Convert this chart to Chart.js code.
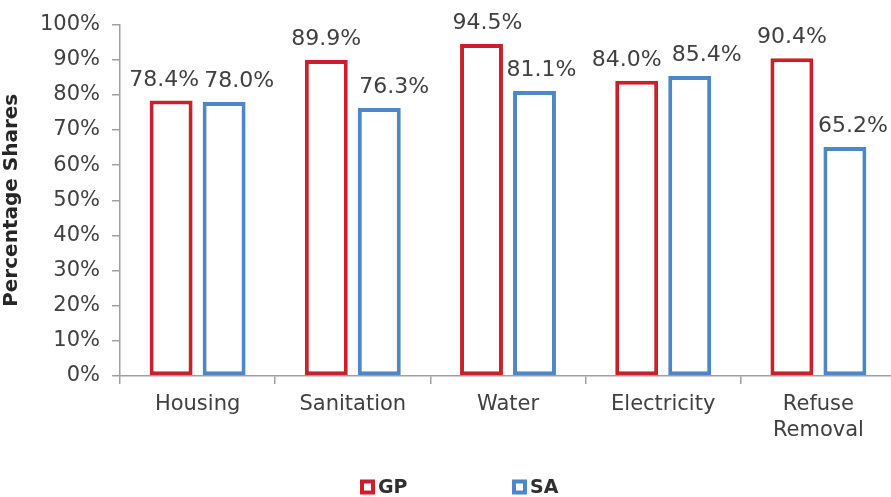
<!DOCTYPE html>
<html>
<head>
<meta charset="utf-8">
<script src="https://cdn.jsdelivr.net/npm/chart.js@4/dist/chart.umd.min.js"></script>
<style>
  html, body { margin: 0; padding: 0; background: #fff; overflow: hidden; }
  #wrap { width: 891px; height: 497px; overflow: hidden; }
  #c { display: block; }
</style>
</head>
<body>
<div id="wrap"><canvas id="c" width="896" height="497"></canvas></div>
<script>
// Access to basic services: share of households
const categories = ['Housing', 'Sanitation', 'Water', 'Electricity', ['Refuse', 'Removal']];
const gpValues = [78.4, 89.9, 94.5, 84.0, 90.4];
const saValues = [78.0, 76.3, 81.1, 85.4, 65.2];
const seriesNames = ['GP', 'SA'];
const yTicks = [0, 10, 20, 30, 40, 50, 60, 70, 80, 90, 100];

// horizontal nudges for the value labels so neighbours don't collide
const labelNudge = [
  [-7, 0, 6, -10, 0],
  [15, 15, 7, 17, 8]
];

const RED = '#C9212B';
const BLUE = '#4F86C6';
const TEXT = '#404040';
const FONT = '"DejaVu Sans", Verdana, sans-serif';

// value labels above each bar
const barLabels = {
  id: 'barLabels',
  afterDatasetsDraw(chart) {
    const ctx = chart.ctx;
    ctx.save();
    ctx.font = '22px ' + FONT;
    ctx.fillStyle = TEXT;
    ctx.textAlign = 'center';
    ctx.textBaseline = 'alphabetic';
    chart.data.datasets.forEach((ds, i) => {
      const meta = chart.getDatasetMeta(i);
      meta.data.forEach((bar, j) => {
        ctx.fillText(ds.data[j].toFixed(1) + '%', bar.x + labelNudge[i][j], bar.y - 15);
      });
    });
    ctx.restore();
  }
};

// legend row along the bottom edge
const bottomLegend = {
  id: 'bottomLegend',
  afterDraw(chart) {
    const ctx = chart.ctx;
    const xs = [360, 512];
    const y = 487;
    ctx.save();
    ctx.font = 'bold 19px ' + FONT;
    ctx.textBaseline = 'middle';
    ctx.textAlign = 'left';
    chart.data.datasets.forEach((ds, i) => {
      ctx.strokeStyle = ds.borderColor;
      ctx.lineWidth = 4;
      ctx.fillStyle = '#fff';
      ctx.fillRect(xs[i] + 2, y - 5.5, 11, 11);
      ctx.strokeRect(xs[i] + 2, y - 5.5, 11, 11);
      ctx.fillStyle = '#303030';
      ctx.fillText(ds.label, xs[i] + 18, y + 1);
    });
    ctx.restore();
  }
};

new Chart(document.getElementById('c'), {
  type: 'bar',
  data: {
    labels: categories,
    datasets: [
      { label: seriesNames[0], data: gpValues, backgroundColor: '#fff', borderColor: RED, borderWidth: 4, borderSkipped: false },
      { label: seriesNames[1], data: saValues, backgroundColor: '#fff', borderColor: BLUE, borderWidth: 4, borderSkipped: false }
    ]
  },
  options: {
    responsive: false,
    animation: false,
    devicePixelRatio: 1,
    layout: { padding: { top: 22, right: 0, left: 0, bottom: 0 } },
    datasets: { bar: { categoryPercentage: 0.683, barPercentage: 0.81 } },
    plugins: {
      legend: { display: false },
      tooltip: { enabled: false }
    },
    scales: {
      x: {
        grid: { offset: true, drawOnChartArea: false, drawTicks: true, tickLength: 8, color: '#A0A0A0', lineWidth: 1.5 },
        border: { display: true, color: '#A0A0A0', width: 1.5 },
        ticks: { color: TEXT, font: { family: FONT, size: 21, lineHeight: 1.22 }, padding: 8, maxRotation: 0, autoSkip: false },
        afterFit(scale) { scale.height = 121; }
      },
      y: {
        min: 0, max: 100,
        afterBuildTicks(scale) { scale.ticks = yTicks.map(v => ({ value: v })); },
        grid: { drawOnChartArea: false, drawTicks: true, tickLength: 8, color: '#A0A0A0', lineWidth: 1.5 },
        border: { display: true, color: '#A0A0A0', width: 1.5 },
        ticks: { color: TEXT, font: { family: FONT, size: 21 }, padding: 12, callback: v => v + '%' },
        title: { display: true, text: 'Percentage Shares', color: '#262626', font: { family: FONT, size: 20, weight: 'bold' }, padding: { top: 0, bottom: 0 } },
        afterFit(scale) { scale.width = 120; }
      }
    }
  },
  plugins: [barLabels, bottomLegend]
});
</script>
</body>
</html>
